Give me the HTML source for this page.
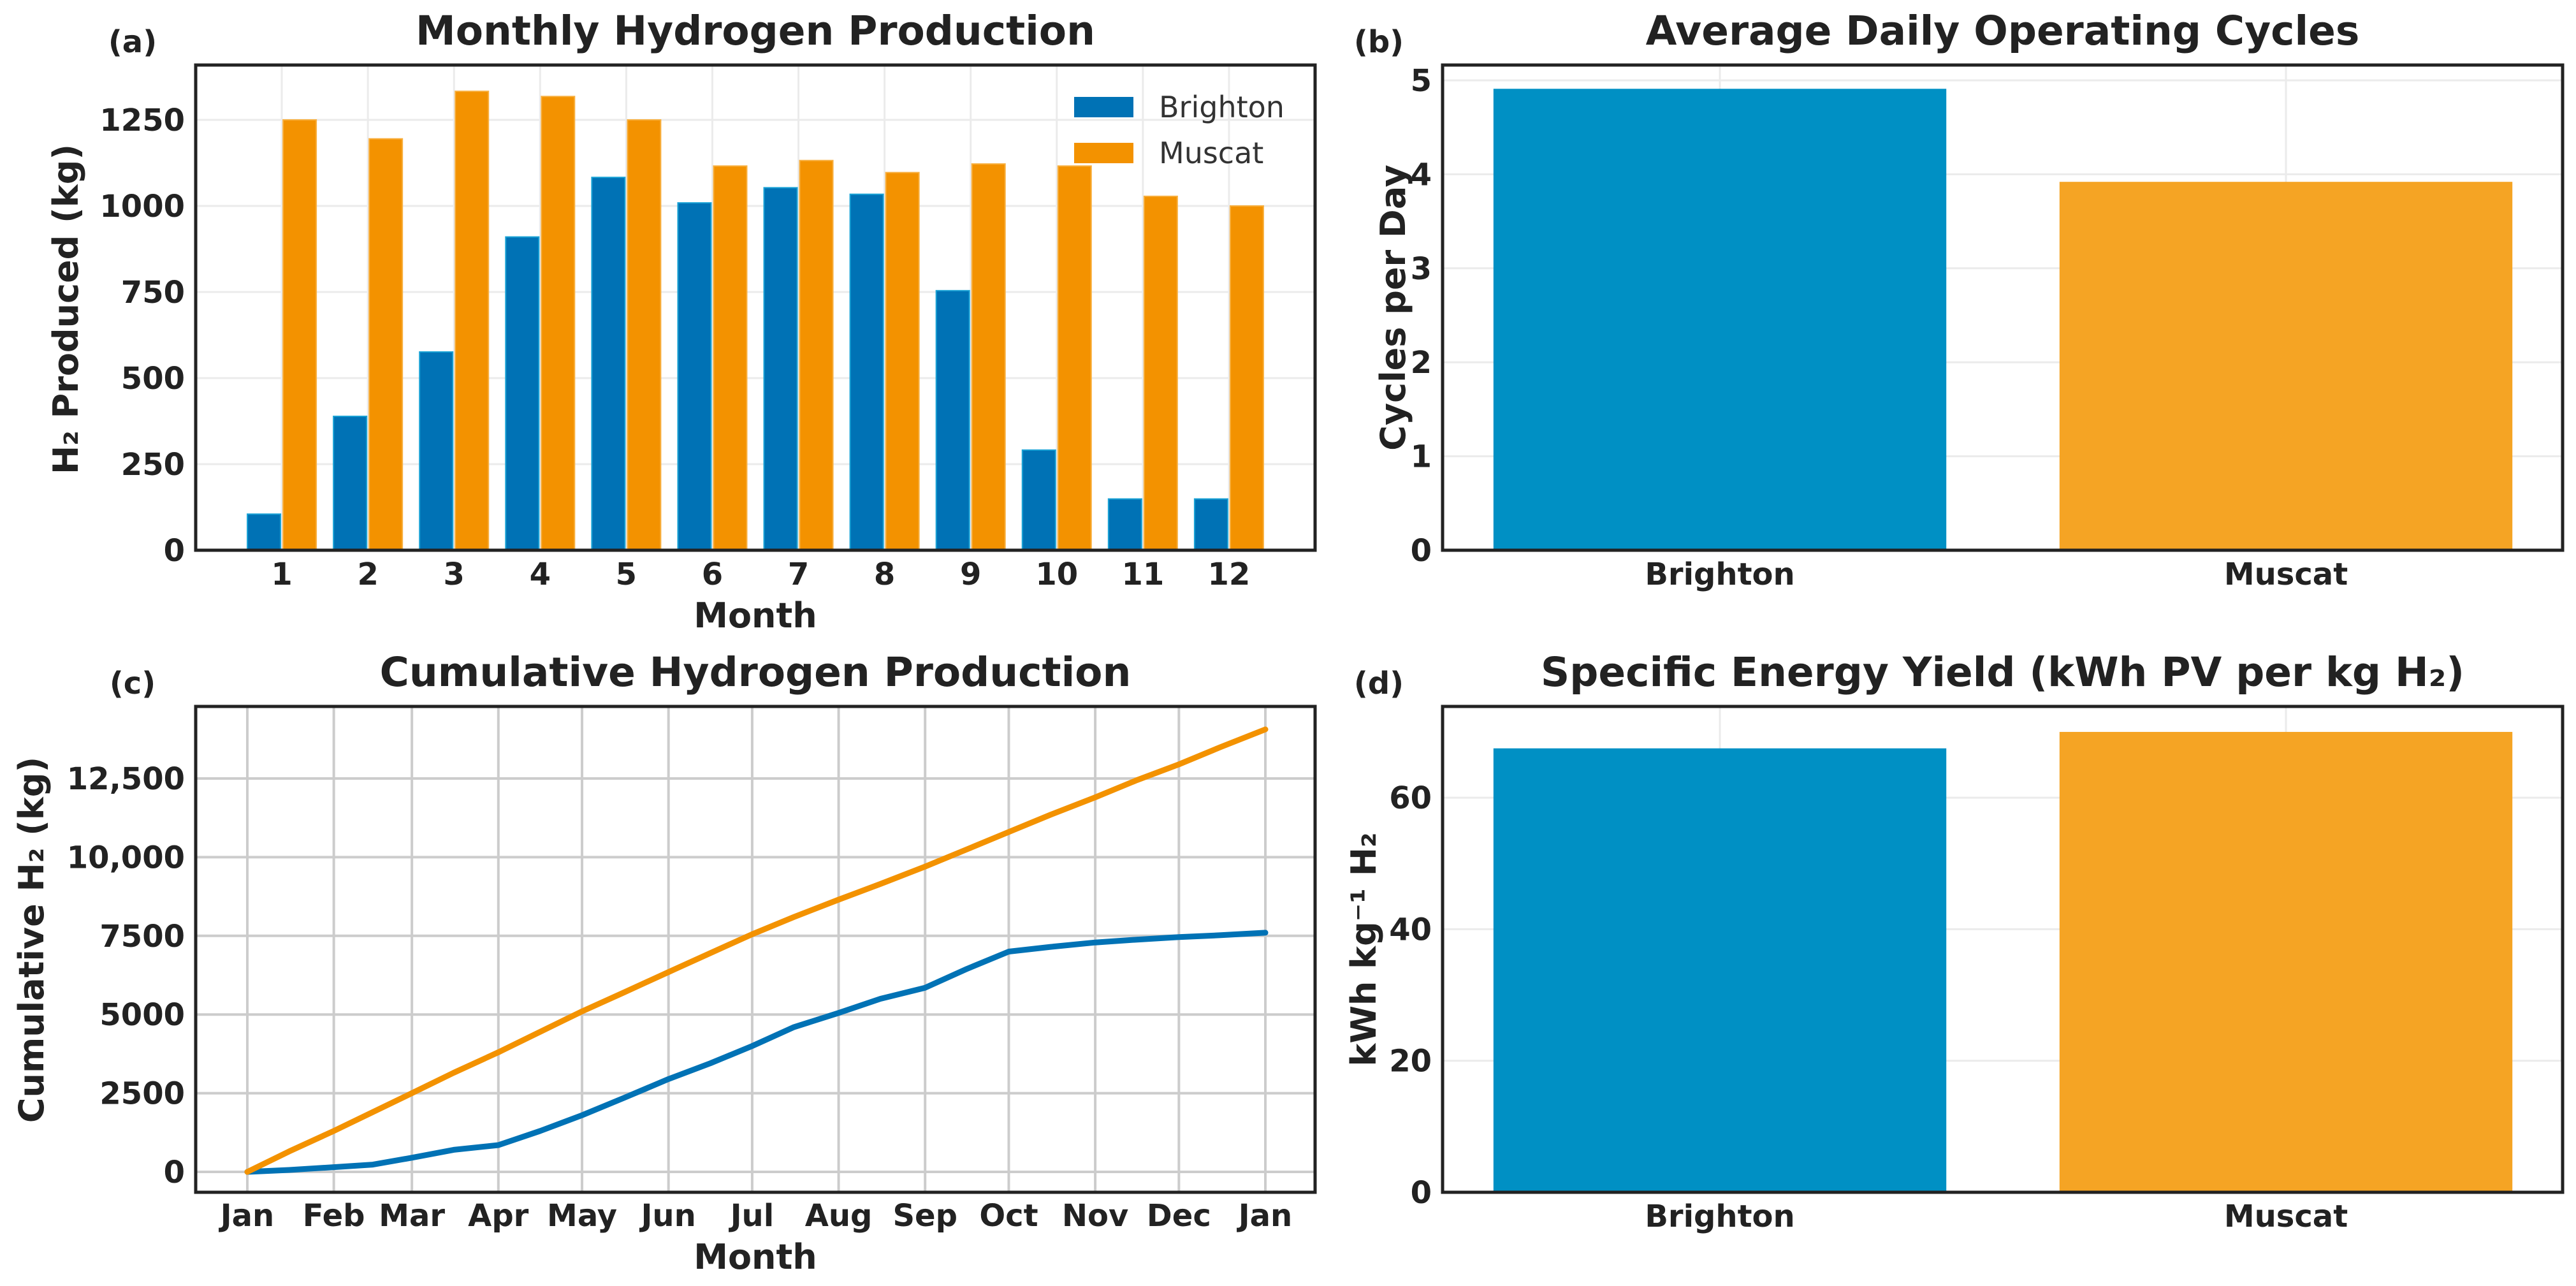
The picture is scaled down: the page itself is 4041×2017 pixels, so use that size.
<!DOCTYPE html>
<html><head><meta charset="utf-8"><style>
html,body{margin:0;padding:0;background:#fff;}
svg{display:block;font-family:"DejaVu Sans","Liberation Sans",sans-serif;}
</style></head><body>
<svg id="fig" width="4041" height="2017" viewBox="0 0 4041 2017" xmlns="http://www.w3.org/2000/svg"></svg>
<script>
// ---------- data ----------
const months = [1,2,3,4,5,6,7,8,9,10,11,12];
const brightonMonthly = [105,389,576,910,1083,1009,1053,1034,754,291,149,149];
const muscatMonthly = [1250,1195,1333,1318,1250,1116,1132,1097,1122,1116,1028,1000];
const monthlyYTicks = [0,250,500,750,1000,1250];

const cycleSites = ["Brighton","Muscat"];
const cycleValues = [4.91,3.92];
const cycleYTicks = [0,1,2,3,4,5];

const cumDays = [0,15,31,45,59,74,90,105,120,135,151,166,181,196,212,227,243,258,273,288,304,319,334,349,365];
const brightonCum = [0,60,150,230,450,700,850,1300,1800,2350,2950,3450,4000,4600,5050,5500,5850,6450,7000,7150,7290,7380,7460,7520,7600];
const muscatCum = [0,650,1300,1900,2500,3150,3800,4450,5100,5700,6350,6950,7550,8100,8650,9150,9700,10250,10800,11350,11900,12450,12950,13500,14060];
const cumXTickDays = [0,31,59,90,120,151,181,212,243,273,304,334,365];
const cumXTickLabels = ["Jan","Feb","Mar","Apr","May","Jun","Jul","Aug","Sep","Oct","Nov","Dec","Jan"];
const cumYTicks = [0,2500,5000,7500,10000,12500];
const cumYTickLabels = ["0","2500","5000","7500","10,000","12,500"];

const yieldSites = ["Brighton","Muscat"];
const yieldValues = [67.5,70.0];
const yieldYTicks = [0,20,40,60];

// ---------- helpers ----------
const NS = "http://www.w3.org/2000/svg";
const fig = document.getElementById('fig');
function mk(tag, attrs, parent, text){
  const e = document.createElementNS(NS, tag);
  for (const k in attrs) e.setAttribute(k, attrs[k]);
  if (text !== undefined) e.textContent = text;
  (parent || fig).appendChild(e);
  return e;
}
function lin(d0,d1,r0,r1){ return v => r0 + (v-d0)/(d1-d0)*(r1-r0); }
const TXT = "#222";

function frame(g, L, T, R, B){
  const f = mk('rect', {x:L, y:T, width:R-L, height:B-T, fill:'none', stroke:'#222', 'stroke-width':5}, g);
  
  
}
function yTicks(g, ticks, labels, y, L, R, gridColor, gridW){
  ticks.forEach((t,i)=>{
    const gl = mk('line', {x1:L, x2:R, y1:y(t), y2:y(t), stroke:gridColor, 'stroke-width':gridW}, g);
    
    
    const tl = mk('text', {x:L-17, y:y(t)+17, 'text-anchor':'end', 'font-size':48, 'font-weight':'bold', fill:TXT}, g, labels ? labels[i] : String(t));
    
    
  });
}
function titleText(g, x, y, s, name){
  const t = mk('text', {x:x, y:y, 'text-anchor':'middle', 'font-size':63, 'font-weight':'bold', fill:TXT}, g, s);
  
  
}
function panelLabel(g, x, y, s){
  const t = mk('text', {x:x, y:y, 'text-anchor':'middle', 'font-size':48, 'font-weight':'bold', fill:TXT}, g, s);
  
  
}
function axisLabel(g, x, y, s, rot, name){
  const a = {x:x, y:y, 'text-anchor':'middle', 'font-size':54, 'font-weight':'bold', fill:TXT};
  if (rot) a.transform = 'rotate(-90 '+x+' '+y+')';
  const t = mk('text', a, g, s);
  
  
}

// ---------- (a) monthly ----------
(function(){
  const g = mk('g', {});
  
  
  const L=307,R=2063,T=102,B=863;
  const x = lin(0,13,L,R);
  const y = lin(0,1250,B,188);
  months.forEach(m=>{
    const gl = mk('line', {x1:x(m), x2:x(m), y1:T, y2:B, stroke:'#ebebeb', 'stroke-width':3}, g);
    
    
  });
  yTicks(g, monthlyYTicks, null, y, L, R, '#ebebeb', 3);
  months.forEach((m,i)=>{
    const b = mk('rect', {x:x(m-0.4), y:y(brightonMonthly[i]), width:x(m)-x(m-0.4)-2, height:B-y(brightonMonthly[i]), fill:'#0072b5', stroke:'#1aa3d6', 'stroke-width':2}, g);
    
    
    const o = mk('rect', {x:x(m)+2, y:y(muscatMonthly[i]), width:x(m+0.4)-x(m)-2, height:B-y(muscatMonthly[i]), fill:'#f39200', stroke:'#f8b040', 'stroke-width':2}, g);
    
    
    const tl = mk('text', {x:x(m), y:917, 'text-anchor':'middle', 'font-size':48, 'font-weight':'bold', fill:TXT}, g, String(m));
    
    
  });
  frame(g,L,T,R,B);
  const lg = mk('g', {}, g);
  
  
  const p1 = mk('rect', {x:1685, y:152, width:93, height:32, fill:'#0072b5'}, lg);
  
  
  const t1 = mk('text', {x:1818, y:184, 'font-size':46, fill:'#333'}, lg, 'Brighton');
  
  
  const p2 = mk('rect', {x:1685, y:224, width:93, height:32, fill:'#f39200'}, lg);
  
  
  const t2 = mk('text', {x:1818, y:256, 'font-size':46, fill:'#333'}, lg, 'Muscat');
  
  
  titleText(g, (L+R)/2, 70, 'Monthly Hydrogen Production', 'chart-title');
  panelLabel(g, 208, 82, '(a)');
  axisLabel(g, (L+R)/2, 984, 'Month', false, 'x-axis-title');
  axisLabel(g, 122, 485, 'H\u2082 Produced (kg)', true, 'y-axis-title');
})();

// ---------- bar panels (b),(d) ----------
function simpleBars(name, T, B, sites, vals, ticks, yMax, tickY, title, label, ylab, ylabX){
  const g = mk('g', {});
  
  
  const L=2263,R=4020;
  const x = lin(0,1,2698,3586);
  const y = lin(0, ticks[1], B, tickY);
  sites.forEach((s,i)=>{
    const gl = mk('line', {x1:x(i), x2:x(i), y1:T, y2:B, stroke:'#ebebeb', 'stroke-width':3}, g);
    
    
  });
  yTicks(g, ticks, null, y, L, R, '#ebebeb', 3);
  const cols = ['#0090c4','#f5a424'];
  sites.forEach((s,i)=>{
    const b = mk('rect', {x:x(i-0.4), y:y(vals[i]), width:x(i+0.4)-x(i-0.4), height:B-y(vals[i]), fill:cols[i]}, g);
    
    
    const tl = mk('text', {x:x(i), y:B+54, 'text-anchor':'middle', 'font-size':48, 'font-weight':'bold', fill:TXT}, g, s);
    
    
  });
  frame(g,L,T,R,B);
  titleText(g, (L+R)/2, T-32, title, 'chart-title');
  panelLabel(g, 2163, T-20, label);
  axisLabel(g, ylabX, (T+B)/2, ylab, true, 'y-axis-title');
}
simpleBars('daily-cycles-panel', 102, 863, cycleSites, cycleValues, cycleYTicks, 5, 863-147.4, 'Average Daily Operating Cycles', '(b)', 'Cycles per Day', 2204);
simpleBars('energy-yield-panel', 1108, 1870, yieldSites, yieldValues, yieldYTicks, 60, 1870-206.3, 'Specific Energy Yield (kWh PV per kg H\u2082)', '(d)', 'kWh kg\u207B\u00B9 H\u2082', 2158);

// ---------- (c) cumulative ----------
(function(){
  const g = mk('g', {});
  
  
  const L=307,R=2063,T=1108,B=1870;
  const x = lin(0,365,388,1985);
  const y = lin(0,2500,1838,1838-123.4);
  cumXTickDays.forEach((d,i)=>{
    const gl = mk('line', {x1:x(d), x2:x(d), y1:T, y2:B, stroke:'#cccccc', 'stroke-width':4}, g);
    
    
    const tl = mk('text', {x:x(d), y:1923, 'text-anchor':'middle', 'font-size':48, 'font-weight':'bold', fill:TXT}, g, cumXTickLabels[i]);
    
    
  });
  yTicks(g, cumYTicks, cumYTickLabels, y, L, R, '#cccccc', 4);
  const mkPath = arr => arr.map((v,i)=>(i?'L':'M')+x(cumDays[i]).toFixed(1)+','+y(v).toFixed(1)).join(' ');
  const lb = mk('path', {d:mkPath(brightonCum), fill:'none', stroke:'#0072b5', 'stroke-width':9, 'stroke-linejoin':'round', 'stroke-linecap':'round'}, g);
  
  
  const lm = mk('path', {d:mkPath(muscatCum), fill:'none', stroke:'#f39200', 'stroke-width':9, 'stroke-linejoin':'round', 'stroke-linecap':'round'}, g);
  
  
  frame(g,L,T,R,B);
  titleText(g, (L+R)/2, 1076, 'Cumulative Hydrogen Production', 'chart-title');
  panelLabel(g, 208, 1088, '(c)');
  axisLabel(g, (L+R)/2, 1990, 'Month', false, 'x-axis-title');
  axisLabel(g, 68, 1474, 'Cumulative H\u2082 (kg)', true, 'y-axis-title');
})();
</script>
</body></html>
